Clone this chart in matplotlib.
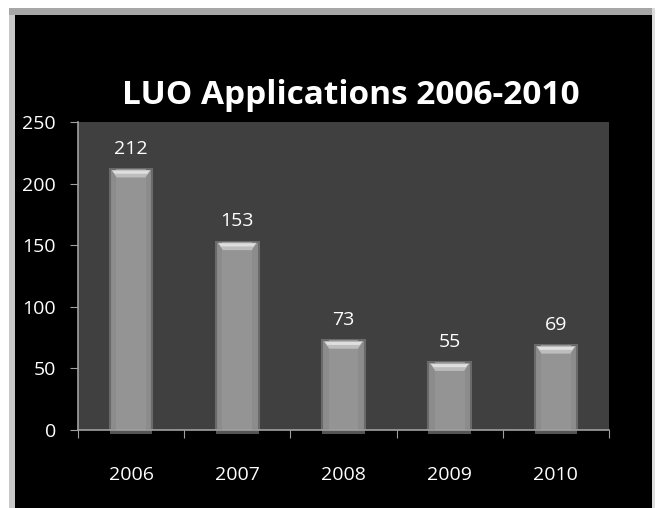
import matplotlib.pyplot as plt
from matplotlib.patches import Rectangle
from matplotlib import font_manager

years = ["2006", "2007", "2008", "2009", "2010"]
applications = [212, 153, 73, 55, 69]
yticks = [0, 50, 100, 150, 200, 250]

names = {f.name for f in font_manager.fontManager.ttflist}
font = "Liberation Sans Narrow" if "Liberation Sans Narrow" in names else "Open Sans"
plt.rcParams['font.family'] = [font, 'DejaVu Sans']

fig = plt.figure(figsize=(6.6, 5.08), dpi=100)
fig.patch.set_facecolor("white")

# outer frame (pixel -> figure fraction)
W, H = 660, 508
fig.patches.append(Rectangle((9 / W, 0), 646 / W, 500 / H, transform=fig.transFigure,
                             facecolor="#a6a6a6", edgecolor="none", zorder=0))
fig.patches.append(Rectangle((9 / W, 0), 6 / W, 493 / H, transform=fig.transFigure,
                             facecolor="#c8c8c8", edgecolor="none", zorder=0))
fig.patches.append(Rectangle((652 / W, 0), 3 / W, 500 / H, transform=fig.transFigure,
                             facecolor="#dcdcdc", edgecolor="none", zorder=0))
fig.patches.append(Rectangle((15 / W, 0), 637 / W, 493 / H, transform=fig.transFigure,
                             facecolor="black", edgecolor="none", zorder=0))

ax = fig.add_axes([78 / W, (H - 430) / H, 531 / W, 308 / H])
ax.set_zorder(2)
ax.set_facecolor("#404040")

x = list(range(len(years)))
w = 0.4
ax.bar(x, applications, width=w, color="#8c8c8c", edgecolor="#6a6a6a",
       linewidth=1.5, zorder=2)
# inner lighter core of the bar
ax.bar(x, applications, width=w * 0.7, color="#949494", edgecolor="none", zorder=2)
# dark foot under the axis
ax.bar(x, [3] * len(x), bottom=[-3] * len(x), width=w,
       color="#555555", edgecolor="none", zorder=1, clip_on=False)

# bevelled highlight on top of each bar
for i, v in zip(x, applications):
    ax.fill([i - w * 0.46, i + w * 0.46, i + w * 0.34, i - w * 0.34],
            [v - 1, v - 1, v - 7, v - 7], color="#bdbdbd", lw=0, zorder=3)
    ax.fill([i - w * 0.44, i + w * 0.44, i + w * 0.38, i - w * 0.38],
            [v - 1.5, v - 1.5, v - 4, v - 4], color="#dedede", lw=0, zorder=3)

for i, v in zip(x, applications):
    ax.annotate(str(v), (i, v), xytext=(0, 8), textcoords="offset points",
                ha="center", va="bottom", color="white", fontsize=14)

ax.set_xlim(-0.5, len(years) - 0.5)
ax.set_ylim(0, 250)
ax.set_yticks(yticks)
ax.set_yticklabels([str(t) for t in yticks], color="white", fontsize=14)
ax.set_xticks([i - 0.5 for i in range(len(years) + 1)])
ax.set_xticklabels([])
ax.set_xticks(x, minor=True)
ax.set_xticklabels(years, minor=True, color="white", fontsize=14)
ax.tick_params(axis="x", which="major", length=6, color="#a0a0a0", direction="out")
ax.tick_params(axis="x", which="minor", length=0, pad=26)
ax.tick_params(axis="y", length=6, color="#a0a0a0", pad=10)

for s in ["top", "right"]:
    ax.spines[s].set_visible(False)
ax.spines["left"].set_color("#a0a0a0")
ax.spines["bottom"].set_color("#a0a0a0")
ax.spines["left"].set_linewidth(1.2)
ax.spines["bottom"].set_linewidth(1.2)

fig.text(351 / W, 1 - 95 / H, "LUO Applications 2006-2010", ha="center", va="center",
         color="white", fontsize=24, fontweight="bold")

fig.savefig("out.png", dpi=100, facecolor=fig.get_facecolor())
